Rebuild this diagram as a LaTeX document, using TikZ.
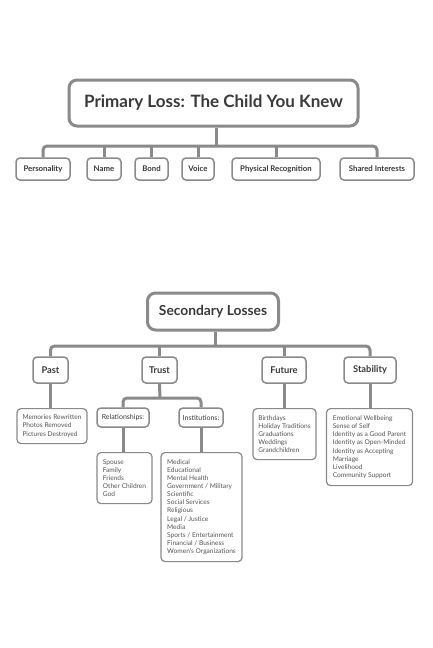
\documentclass[tikz,border=0pt]{standalone}
\usepackage{fontspec}
\setmainfont{Lato}

\definecolor{linegray}{HTML}{8A8A8A}
\definecolor{textgray}{HTML}{3A3A3A}
\definecolor{listgray}{HTML}{555555}

\tikzset{
    link/.style={draw=linegray, line width=3pt},
    rootbox/.style={draw=linegray, line width=3pt, rounded corners=8pt, fill=white,
        text=textgray, inner sep=0pt},
    labelbox/.style={draw=linegray, line width=1.5pt, rounded corners=4pt, fill=white,
        text=textgray, inner sep=0pt, minimum height=22pt,
        font=\bfseries\fontsize{7.8}{9}\selectfont},
    listbox/.style={draw=linegray, line width=1.2pt, rounded corners=4pt, fill=white,
        text=listgray, inner sep=0pt, align=left, anchor=north,
        font=\fontsize{6.6}{8.1}\selectfont}
}

\begin{document}
\begin{tikzpicture}[x=1pt, y=-1pt]
    \useasboundingbox [fill=white] (0,0) rectangle (432,648);

    % primary loss
    \node [rootbox, minimum width=289pt, minimum height=46pt,
        font=\bfseries\fontsize{17}{20}\selectfont] (primary) at (213.5,103) {Primary Loss: The Child You Knew};

    \node [labelbox, minimum width=54pt] (personality) at (43,169) {Personality};
    \node [labelbox, minimum width=34pt] (name) at (104,169) {Name};
    \node [labelbox, minimum width=33pt] (bond) at (151.5,169) {Bond};
    \node [labelbox, minimum width=32pt] (voice) at (198,169) {Voice};
    \node [labelbox, minimum width=88pt] (physical) at (276,169) {Physical Recognition};
    \node [labelbox, minimum width=74pt] (shared) at (377,169) {Shared Interests};

    \coordinate (pbar) at (216,146);
    \draw [link] (primary.south -| pbar) -- (pbar);
    \draw [link, rounded corners=4pt] (personality.north) |- (pbar) -| (shared.north);
    \foreach \n in {name, bond, voice, physical}
        \draw [link] (\n.north) -- (\n.north |- pbar);

    % secondary losses
    \node [rootbox, minimum width=131pt, minimum height=37pt,
        font=\bfseries\fontsize{13.8}{16}\selectfont] (secondary) at (213,311.5) {Secondary Losses};

    \node [labelbox, minimum width=35pt, minimum height=26pt, font=\bfseries\fontsize{9.3}{11}\selectfont] (past) at (50.5,370) {Past};
    \node [labelbox, minimum width=35pt, minimum height=26pt, font=\bfseries\fontsize{9.3}{11}\selectfont] (trust) at (159.5,370) {Trust};
    \node [labelbox, minimum width=44pt, minimum height=26pt, font=\bfseries\fontsize{9.3}{11}\selectfont] (future) at (284,370) {Future};
    \node [labelbox, minimum width=52pt, minimum height=26pt, font=\bfseries\fontsize{9.3}{11}\selectfont] (stability) at (370,370) {Stability};

    \coordinate (sbar) at (215,346);
    \draw [link] (secondary.south -| sbar) -- (sbar);
    \draw [link, rounded corners=4pt] (past.north) |- (sbar) -| (stability.north);
    \foreach \n in {trust, future}
        \draw [link] (\n.north) -- (\n.north |- sbar);

    % past
    \node [listbox, minimum width=70pt, minimum height=35pt] (memories) at (52,408)
        {Memories Rewritten\\Photos Removed\\Pictures Destroyed};
    \draw [link] (past.south) -- (past.south |- memories.north);

    % trust
    \node [labelbox, minimum width=52pt, minimum height=19pt, font=\fontsize{7}{8}\selectfont] (relations) at (123,417.5) {Relationships:};
    \node [labelbox, minimum width=44pt, minimum height=19pt, font=\fontsize{7}{8}\selectfont] (institutions) at (201,417.5) {Institutions:};

    \coordinate (tbar) at (160,398);
    \draw [link] (trust.south) -- (tbar);
    \draw [link, rounded corners=4pt] (relations.north) |- (tbar) -| (institutions.north);

    \node [listbox, minimum width=55pt, minimum height=51pt] (people) at (124.5,452)
        {Spouse\\Family\\Friends\\Other Children\\God};
    \node [listbox, minimum width=81pt, minimum height=109pt] (instlist) at (201.5,452)
        {Medical\\Educational\\Mental Health\\Government / Military\\Scientific\\Social Services\\Religious\\Legal / Justice\\Media\\Sports / Entertainment\\Financial / Business\\Women's Organizations};
    \draw [link] (relations.south) -- (relations.south |- people.north);
    \draw [link] (institutions.south) -- (institutions.south |- instlist.north);

    % future
    \node [listbox, minimum width=63pt, minimum height=51pt] (events) at (284.5,408)
        {Birthdays\\Holiday Traditions\\Graduations\\Weddings\\Grandchildren};
    \draw [link] (future.south) -- (future.south |- events.north);

    % stability
    \node [listbox, minimum width=86pt, minimum height=77pt] (identity) at (369.5,408)
        {Emotional Wellbeing\\Sense of Self\\Identity as a Good Parent\\Identity as Open-Minded\\Identity as Accepting\\Marriage\\Livelihood\\Community Support};
    \draw [link] (stability.south) -- (stability.south |- identity.north);
\end{tikzpicture}
\end{document}
